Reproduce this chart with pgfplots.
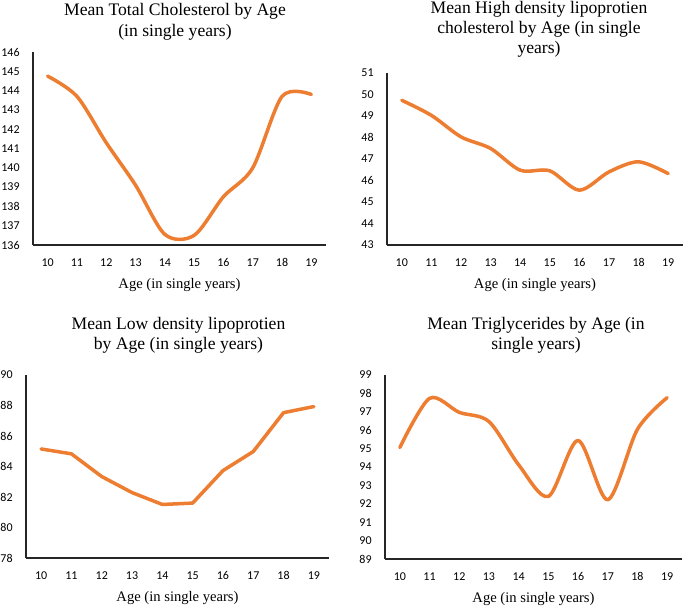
\documentclass[border=0pt]{standalone}
\usepackage{pgfplots}
\pgfplotsset{compat=1.18}
\usepackage{fontspec}
\setmainfont{Liberation Serif}
\newfontfamily\calib{Carlito}

\definecolor{exorange}{HTML}{ED7D31}

\pgfplotsset{
  panel/.style={
    scale only axis,
    anchor=south west,
    axis x line=bottom,
    axis y line=left,
    axis line style={-, black!85, line width=0.6pt},
    major tick length=0pt,
    xmin=9.5, xmax=19.5,
    xtick={10,...,19},
    /pgf/number format/assume math mode=true,
    ticklabel style={font=\calib\fontsize{6}{7}\selectfont, inner sep=0pt},
    yticklabel style={anchor=east, xshift=-6.5pt},
    xticklabel style={anchor=base, yshift=-10.8pt},
    xlabel={Age (in single years)},
    xlabel style={at={(axis description cs:0.5,0)}, anchor=base, yshift=-21.5pt,
                  font=\fontsize{7.3}{8}\selectfont},
    clip=false,
  },
  trend/.style={exorange, line width=1.75pt, line join=round, line cap=round, mark=none},
}

\begin{document}
\begin{tikzpicture}
\useasboundingbox (0,0) rectangle (342.5pt,303pt);

% top left
\begin{axis}[panel, at={(16.5pt,180.5pt)}, width=146.5pt, height=96.5pt,
  ymin=136, ymax=146, ytick={136,...,146}]
\addplot[trend, smooth] coordinates {
 (10,144.75) (11,143.7) (12,141.3) (13,139.1) (14,136.55)
 (15,136.5) (16,138.5) (17,140.0) (18,143.7) (19,143.8)};
\end{axis}

% top right
\begin{axis}[panel, at={(193.5pt,180.5pt)}, width=148pt, height=86pt,
  ymin=43, ymax=51, ytick={43,...,51}]
\addplot[trend, smooth] coordinates {
 (10,49.73) (11,49.03) (12,48.03) (13,47.49) (14,46.48)
 (15,46.45) (16,45.55) (17,46.4) (18,46.87) (19,46.32)};
\end{axis}

% bottom left
\begin{axis}[panel, at={(13pt,24pt)}, width=151.5pt, height=91.5pt,
  ymin=78, ymax=90, ytick={78,80,...,90}]
\addplot[trend] coordinates {
 (10,85.15) (11,84.83) (12,83.34) (13,82.29) (14,81.51)
 (15,81.6) (16,83.73) (17,84.98) (18,87.53) (19,87.93)};
\end{axis}

% bottom right
\begin{axis}[panel, at={(192.5pt,23.5pt)}, width=148.5pt, height=92pt,
  ymin=89, ymax=99, ytick={89,...,99}]
\addplot[trend, smooth] coordinates {
 (10,95.06) (11,97.73) (12,96.97) (13,96.47) (14,94.12)
 (15,92.4) (16,95.44) (17,92.22) (18,96.05) (19,97.77)};
\end{axis}

% titles
\begin{scope}[every node/.style={anchor=base, inner sep=0pt, font=\fontsize{8.8}{10}\selectfont}]
\node at (87.5pt,295pt) {Mean Total Cholesterol by Age};
\node at (87.5pt,284.65pt) {(in single years)};
\node at (269.5pt,296.35pt) {Mean High density lipoprotien};
\node at (269.5pt,286.35pt) {cholesterol by Age (in single};
\node at (269.5pt,276.35pt) {years)};
\node at (89.25pt,138.35pt) {Mean Low density lipoprotien};
\node at (89.25pt,128.35pt) {by Age (in single years)};
\node at (268pt,138.35pt) {Mean Triglycerides by Age (in};
\node at (268pt,128.2pt) {single years)};
\end{scope}
\end{tikzpicture}
\end{document}
